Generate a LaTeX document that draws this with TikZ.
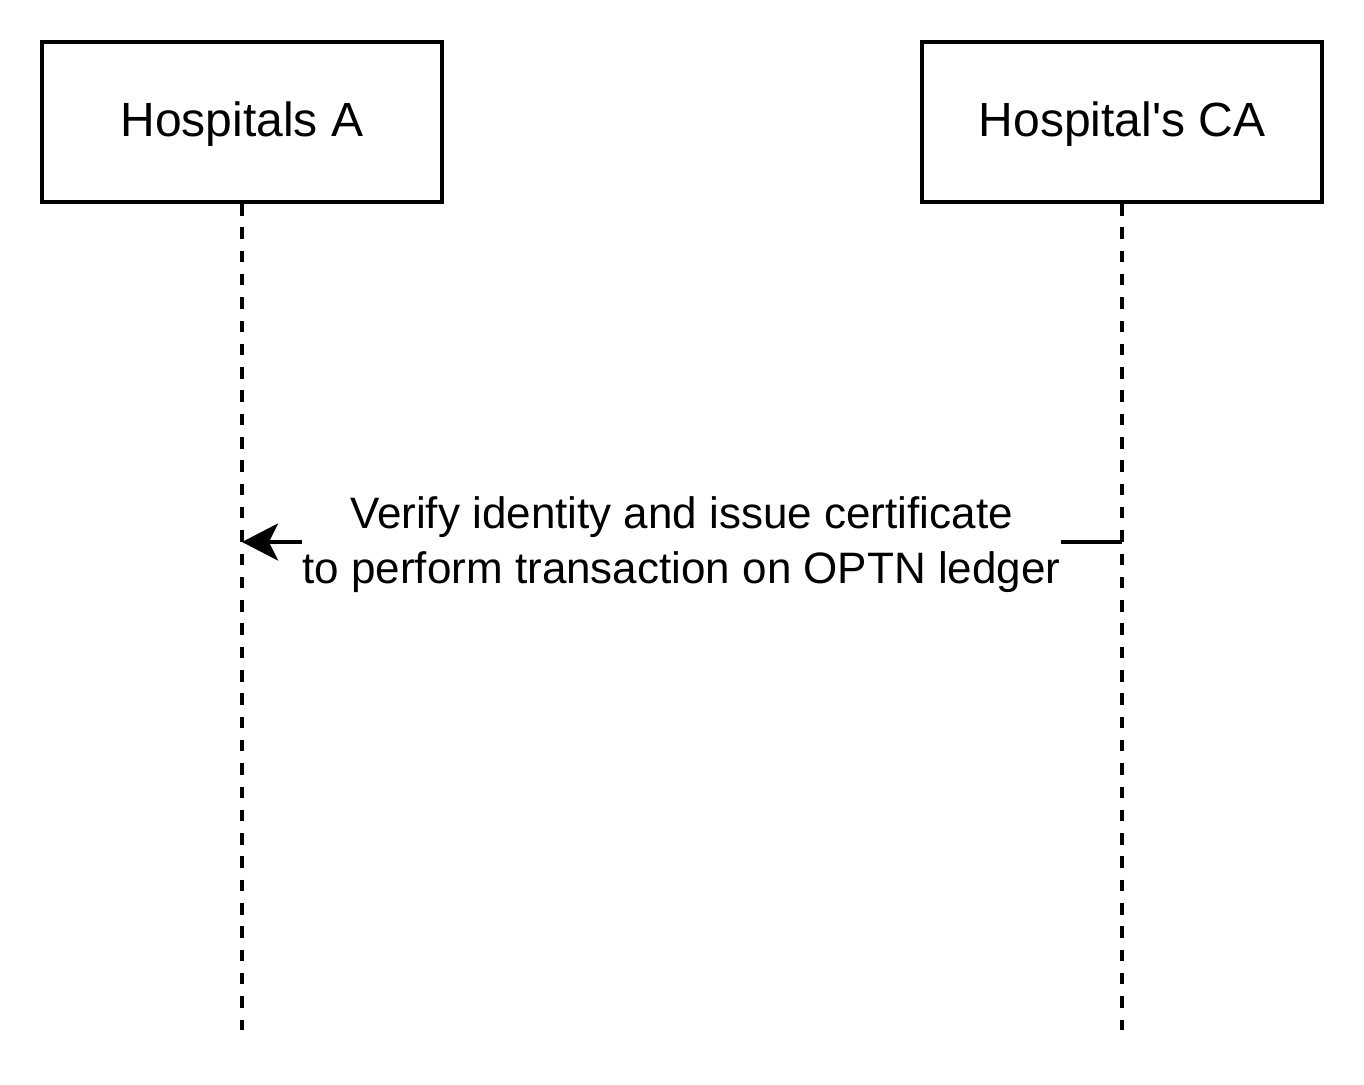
\documentclass[tikz,border=0pt]{standalone}
\usepackage{fontspec}
\setmainfont{Liberation Sans}
\usetikzlibrary{arrows.meta}
\begin{document}
\begin{tikzpicture}[x=1pt,y=-1pt,
  actor/.style={draw, line width=4pt, minimum width=400pt, minimum height=160pt, inner sep=0pt, text height=35pt, text depth=6pt, font=\fontsize{48}{56}\selectfont},
  lifeline/.style={line width=3.6pt, dash pattern=on 11.5pt off 11.8pt},
  msg/.style={line width=3.6pt, -{Stealth[length=36pt,width=37pt,inset=9pt]}},
  msglabel/.style={fill=white, inner sep=0pt, align=center, font=\fontsize{44}{55}\selectfont}]
\useasboundingbox (0,0) rectangle (1364,1084);
\node[actor] (a) at (242,122) {Hospitals A};
\node[actor] (ca) at (1122,122) {Hospital\textquotesingle s CA};
\coordinate (aend) at (242,1030);
\coordinate (caend) at (1122,1030);
\draw[lifeline] (a.south) -- (aend);
\draw[lifeline] (ca.south) -- (caend);
\coordinate (ms) at (1122,542);
\coordinate (me) at (242,542);
\draw[msg] (ms) -- (me);
\node[msglabel] (lbl) at (681.5,545) {Verify identity and issue certificate\\to perform transaction on OPTN ledger};
\end{tikzpicture}
\end{document}
